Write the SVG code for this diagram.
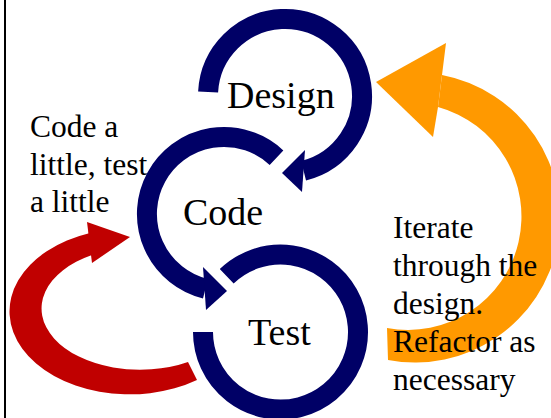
<svg xmlns="http://www.w3.org/2000/svg" width="551" height="418" viewBox="0 0 551 418">
<style>
.cyc{fill:none;stroke:#000066;stroke-width:20;stroke-linecap:butt}
.head{fill:#000066}
text{font-family:'Liberation Serif','Times New Roman',Times,'DejaVu Serif',serif;fill:#000}
.big{font-size:38px}
.note{font-size:31.5px}
</style>
<rect x="0" y="0" width="551" height="418" fill="#fff"/>
<rect x="4" y="0" width="2" height="418" fill="#000"/>
<g id="connectors">
  <g id="loop-code-test">
    <path d="M 90 233 A 120 83 0 1 0 197 380 L 188 362 A 98 61 0 1 1 92 255 Z" fill="#C00000"/>
    <polygon points="87,222 130,237 92,263" fill="#C00000"/>
  </g>
  <g id="loop-iterate">
    <path d="M 388 360 A 145 145 0 0 0 442 75 L 438 107 A 113.5 113.5 0 0 1 387 328 Z" fill="#FF9900"/>
    <polygon points="442,75 446,43 376,82 433,137 438,107" fill="#FF9900"/>
  </g>
</g>
<g id="node-design">
  <path class="cyc" d="M 208.1 92 A 77 77 0 1 1 303.6 170.7"/>
  <polygon class="head" points="305,150 282,173 302,192"/>
  <text class="big" x="227" y="108" font-family="Liberation Serif, serif">Design</text>
</g>
<g id="node-code">
  <path class="cyc" d="M 276.5 157.7 A 77 77 0 1 0 205.4 288.7"/>
  <polygon class="head" points="203,267 227,291 206,310"/>
  <text class="big" x="183" y="225" font-family="Liberation Serif, serif">Code</text>
</g>
<g id="node-test">
  <path class="cyc" d="M 226.7 276.3 A 77.5 77.5 0 1 1 203 332"/>
  <text class="big" x="248" y="345" font-family="Liberation Serif, serif">Test</text>
</g>
<g id="label-left">
  <text class="note" x="30" y="137">Code a</text>
  <text class="note" x="30" y="174.5">little, test</text>
  <text class="note" x="30" y="212">a little</text>
</g>
<g id="label-right">
  <text class="note" x="393" y="238">Iterate</text>
  <text class="note" x="393" y="276">through the</text>
  <text class="note" x="393" y="314">design.</text>
  <text class="note" x="393" y="352">Refactor as</text>
  <text class="note" x="393" y="390">necessary</text>
</g>
</svg>
